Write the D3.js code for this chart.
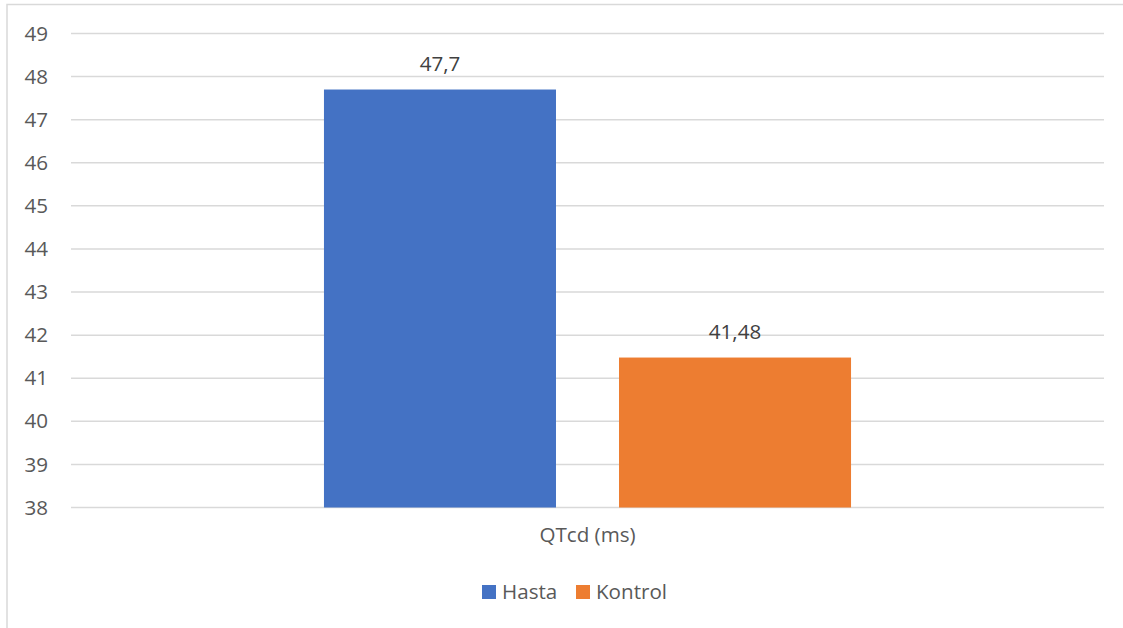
<!DOCTYPE html>
<html><head><meta charset="utf-8">
<script src="https://cdn.jsdelivr.net/npm/d3@7"></script>
<style>body{margin:0;background:#fff}svg{display:block}text{font-family:"Open Sans",sans-serif}</style>
</head><body>
<script>
const categories = ["QTcd (ms)"];
const seriesNames = ["Hasta", "Kontrol"];
const hastaValues = [47.7];
const kontrolValues = [41.48];
const valueLabels = [["47,7"], ["41,48"]];
const yTicks = [38,39,40,41,42,43,44,45,46,47,48,49];
const colors = ["#4472C4", "#ED7D31"];

(function(){
const W = 1123, H = 628;
const FS = "20.6px";
const svg = d3.select("body").append("svg").attr("width", W).attr("height", H);

// outer border (cut off at right/bottom)
svg.append("rect").attr("x", 7).attr("y", 4.5).attr("width", W + 20).attr("height", H + 20)
  .attr("fill", "none").attr("stroke", "#d9d9d9").attr("stroke-width", 1.5);

const mLeft = 71, mRight = 1104, mTop = 33.5, mBottom = 507.5;
const y = d3.scaleLinear().domain([38, 49]).range([mBottom, mTop]);
const x0 = d3.scaleBand().domain(categories).range([mLeft, mRight]).padding(0.3243);
const x1 = d3.scaleBand().domain(seriesNames).range([0, x0.bandwidth()]).paddingInner(0.2136);

// gridlines
svg.append("g").selectAll("line").data(yTicks).join("line")
  .attr("x1", mLeft).attr("x2", mRight)
  .attr("y1", d => y(d)).attr("y2", d => y(d))
  .attr("stroke", "#d9d9d9").attr("stroke-width", 1.5);

// y axis labels
const yAxis = d3.axisLeft(y).tickValues(yTicks).tickSize(0).tickPadding(23).tickFormat(d3.format("d"));
const ya = svg.append("g").attr("transform", `translate(${mLeft},0)`).call(yAxis);
ya.select(".domain").remove();
ya.selectAll("text").attr("fill", "#595959").style("font-size", FS).style("font-family", "'Open Sans',sans-serif");

const seriesValues = [hastaValues, kontrolValues];
categories.forEach((c, ci) => {
  const g = svg.append("g").attr("transform", `translate(${x0(c)},0)`);
  seriesNames.forEach((s, si) => {
    const v = seriesValues[si][ci];
    g.append("rect").attr("x", x1(s)).attr("width", x1.bandwidth())
      .attr("y", y(v)).attr("height", y(38) - y(v)).attr("fill", colors[si]);
    g.append("text").attr("x", x1(s) + x1.bandwidth() / 2).attr("y", y(v) - 18.5)
      .attr("text-anchor", "middle").attr("fill", "#404040").style("font-size", FS)
      .text(valueLabels[si][ci]);
  });
});

// x axis labels
const xAxis = d3.axisBottom(x0).tickSize(0).tickPadding(20);
const xa = svg.append("g").attr("transform", `translate(0,${mBottom})`).call(xAxis);
xa.select(".domain").remove();
xa.selectAll("text").attr("fill", "#595959").style("font-size", FS).style("font-family", "'Open Sans',sans-serif");

// legend
const legendX = [482, 576];
const lg = svg.append("g");
seriesNames.forEach((s, i) => {
  lg.append("rect").attr("x", legendX[i]).attr("y", 585).attr("width", 14).attr("height", 14).attr("fill", colors[i]);
  lg.append("text").attr("x", legendX[i] + 20).attr("y", 599).attr("fill", "#595959").style("font-size", FS).text(s);
});
})();
</script>
</body></html>
